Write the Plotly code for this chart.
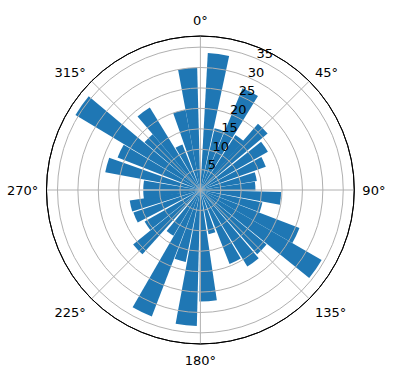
import plotly.graph_objects as go

# bar directions (degrees, clockwise from north), lengths and angular widths
theta = [354, 7.6, 17.5, 27, 37, 45.5, 56, 66, 76.5, 86,
         96, 106, 115.5, 124.5, 134, 144, 154, 165, 176, 186,
         196, 205.5, 215, 226.5, 236, 247, 257, 265, 275, 285,
         296, 305.5, 315, 324, 334, 345]
radii = [30, 33.6, 15.5, 27, 16, 21.5, 19, 17, 14, 13.5,
         19.8, 15.5, 26, 34.3, 21, 22, 19.5, 11, 27.3, 33.3,
         18, 33.2, 13, 21.2, 15.7, 17.3, 17.5, 14, 14, 23.7,
         21.8, 35.7, 18, 23.7, 12, 20]
widths = [9.0] * len(theta)

angle_ticks = [0, 45, 90, 135, 180, 225, 270, 315]
angle_labels = [f"{a}°" for a in angle_ticks]
radial_ticks = [5, 10, 15, 20, 25, 30, 35]
r_max = 37.7
label_angle = 25.5   # direction along which radial tick labels sit (matplotlib: 22.5 + pad)

fig = go.Figure()
fig.add_trace(go.Barpolar(
    theta=theta, r=radii, width=widths,
    marker=dict(color="#1f77b4", line=dict(width=0)),
    subplot="polar",
))
# radial tick labels, placed through the polar scale just outside each grid circle
fig.add_trace(go.Scatterpolar(
    r=[t + 1.6 for t in radial_ticks],
    theta=[label_angle] * len(radial_ticks),
    text=[str(t) for t in radial_ticks],
    mode="text", textposition="middle center",
    textfont=dict(family="DejaVu Sans", size=13, color="black"),
    subplot="polar2", hoverinfo="skip",
))

domain = dict(x=[0.117, 0.895], y=[0.095, 0.905])
grid = "#b0b0b0"

fig.update_layout(
    width=396, height=380,
    margin=dict(l=0, r=0, t=0, b=0),
    paper_bgcolor="white",
    showlegend=False,
    font=dict(family="DejaVu Sans", size=13, color="black"),
    polar=dict(
        domain=domain,
        bgcolor="white",
        angularaxis=dict(
            direction="clockwise", rotation=90,
            tickmode="array", tickvals=angle_ticks, ticktext=angle_labels,
            showline=True, linecolor="black", linewidth=1,
            showgrid=False,
            ticks="outside", ticklen=5, tickcolor="rgba(0,0,0,0)",
            tickfont=dict(size=13),
        ),
        radialaxis=dict(
            range=[0, r_max], angle=67.5,
            tickmode="array", tickvals=radial_ticks,
            showline=False, showgrid=False, showticklabels=False,
            ticks="",
        ),
    ),
    polar2=dict(
        domain=domain,
        bgcolor="rgba(0,0,0,0)",
        angularaxis=dict(
            direction="clockwise", rotation=90,
            tickmode="array", tickvals=angle_ticks,
            showticklabels=False, ticks="",
            showline=True, linecolor="black", linewidth=1,
            showgrid=True, gridcolor=grid, gridwidth=1,
        ),
        radialaxis=dict(
            range=[0, r_max], angle=67.5,
            tickmode="array", tickvals=radial_ticks,
            showline=False, showgrid=True, gridcolor=grid, gridwidth=1,
            ticks="", showticklabels=False,
        ),
    ),
)

fig.write_html("out.html")
